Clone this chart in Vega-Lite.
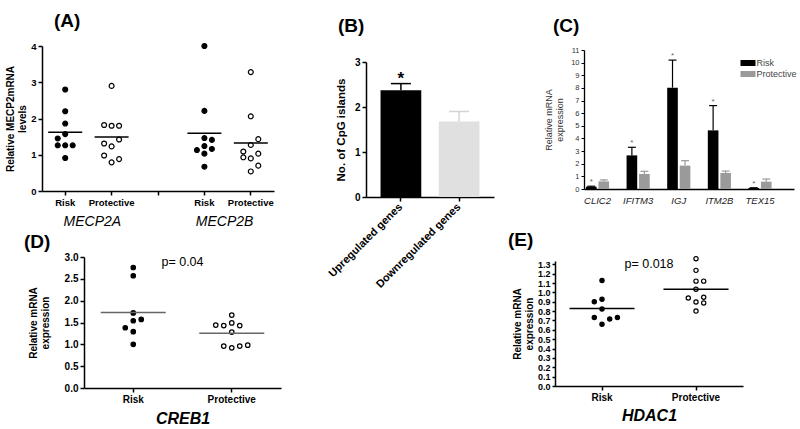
{
  "$schema": "https://vega.github.io/schema/vega-lite/v6.json",
  "padding": {"left": 5, "top": 12, "right": 0, "bottom": 0},
  "background": "#ffffff",
  "config": {
    "font": "Liberation Sans",
    "view": {"stroke": null},
    "axis": {"grid": false, "domainColor": "#000", "tickColor": "#000", "labelColor": "#000", "titleColor": "#000", "domainWidth": 1.5, "tickWidth": 1.5, "tickSize": 4, "labelFontWeight": "bold", "labelFontSize": 10, "titleFontSize": 10, "titleFontWeight": "bold", "labelPadding": 2},
    "title": {"fontSize": 19, "fontWeight": "bold", "anchor": "start", "frame": "group", "color": "#000"}
  },
  "columns": 3,
  "align": "none",
  "bounds": "flush",
  "spacing": {"row": 60, "column": 20},
  "resolve": {"scale": {"xOffset": "independent", "color": "independent"}},
  "concat": [
    {
      "title": {"text": "(A)", "dx": 12, "offset": 10},
      "width": 304, "height": 145,
      "data": {"values": [
        {"cat": "A-Risk", "group": "Risk", "value": 2.80, "jitter": 0},
        {"cat": "A-Risk", "group": "Risk", "value": 2.20, "jitter": 0},
        {"cat": "A-Risk", "group": "Risk", "value": 1.86, "jitter": 0},
        {"cat": "A-Risk", "group": "Risk", "value": 1.57, "jitter": 0},
        {"cat": "A-Risk", "group": "Risk", "value": 1.45, "jitter": -1},
        {"cat": "A-Risk", "group": "Risk", "value": 1.26, "jitter": -1},
        {"cat": "A-Risk", "group": "Risk", "value": 1.26, "jitter": 0},
        {"cat": "A-Risk", "group": "Risk", "value": 1.26, "jitter": 1},
        {"cat": "A-Risk", "group": "Risk", "value": 0.91, "jitter": 0},
        {"cat": "A-Protective", "group": "Protective", "value": 2.90, "jitter": 0},
        {"cat": "A-Protective", "group": "Protective", "value": 1.82, "jitter": -1},
        {"cat": "A-Protective", "group": "Protective", "value": 1.80, "jitter": 0},
        {"cat": "A-Protective", "group": "Protective", "value": 1.80, "jitter": 1},
        {"cat": "A-Protective", "group": "Protective", "value": 1.42, "jitter": 1},
        {"cat": "A-Protective", "group": "Protective", "value": 1.31, "jitter": -1},
        {"cat": "A-Protective", "group": "Protective", "value": 1.23, "jitter": 0},
        {"cat": "A-Protective", "group": "Protective", "value": 0.98, "jitter": -1},
        {"cat": "A-Protective", "group": "Protective", "value": 0.88, "jitter": 1},
        {"cat": "A-Protective", "group": "Protective", "value": 0.79, "jitter": 0},
        {"cat": "B-Risk", "group": "Risk", "value": 4.00, "jitter": 0},
        {"cat": "B-Risk", "group": "Risk", "value": 2.21, "jitter": 0},
        {"cat": "B-Risk", "group": "Risk", "value": 1.46, "jitter": 0},
        {"cat": "B-Risk", "group": "Risk", "value": 1.41, "jitter": 1},
        {"cat": "B-Risk", "group": "Risk", "value": 1.24, "jitter": 0},
        {"cat": "B-Risk", "group": "Risk", "value": 1.16, "jitter": 1},
        {"cat": "B-Risk", "group": "Risk", "value": 1.13, "jitter": -1},
        {"cat": "B-Risk", "group": "Risk", "value": 1.03, "jitter": 0},
        {"cat": "B-Risk", "group": "Risk", "value": 0.67, "jitter": 0},
        {"cat": "B-Protective", "group": "Protective", "value": 3.28, "jitter": 0},
        {"cat": "B-Protective", "group": "Protective", "value": 2.06, "jitter": 0},
        {"cat": "B-Protective", "group": "Protective", "value": 1.43, "jitter": 1},
        {"cat": "B-Protective", "group": "Protective", "value": 1.27, "jitter": 0},
        {"cat": "B-Protective", "group": "Protective", "value": 1.09, "jitter": -1},
        {"cat": "B-Protective", "group": "Protective", "value": 1.03, "jitter": 1},
        {"cat": "B-Protective", "group": "Protective", "value": 0.93, "jitter": -1},
        {"cat": "B-Protective", "group": "Protective", "value": 0.90, "jitter": 0},
        {"cat": "B-Protective", "group": "Protective", "value": 0.70, "jitter": 1},
        {"cat": "B-Protective", "group": "Protective", "value": 0.54, "jitter": 0}
      ]},
      "encoding": {
        "x": {"field": "cat", "type": "nominal", "sort": null,
          "scale": {"type": "band", "domain": ["A-Risk", "A-Protective", "gap", "B-Risk", "B-Protective"], "range": [0, 232], "paddingInner": 0, "paddingOuter": 0},
          "axis": {"title": "MECP2A\u2003\u2003\u2003\u2003\u2003\u2004MECP2B", "titleFontStyle": "italic", "titleFontWeight": "normal", "titleFontSize": 14, "titlePadding": 8, "labelAngle": 0, "labelFontSize": 9.5,
            "labelExpr": "datum.value === 'gap' ? '' : (indexof(datum.value, 'Risk') >= 0 ? 'Risk' : 'Protective')",
            "encode": {"ticks": {"update": {"opacity": {"signal": "datum.value === 'A-Risk' || datum.value === 'A-Protective' ? 0 : 1"}}}}}},
        "y": {"field": "value", "type": "quantitative", "scale": {"domain": [0, 4], "nice": false},
          "axis": {"values": [0, 1, 2, 3, 4], "title": ["Relative MECP2mRNA", "levels"], "titlePadding": 3, "labelFontSize": 9.5}}
      },
      "layer": [
        {"mark": {"type": "point", "shape": "circle", "filled": true, "size": 24, "stroke": "#000", "strokeWidth": 1.2, "opacity": 1},
         "encoding": {
           "xOffset": {"field": "jitter", "type": "quantitative", "scale": {"domain": [-3.1, 3.1]}},
           "fill": {"condition": {"test": "datum.group === 'Risk'", "value": "#000"}, "value": "#fff"}}},
        {"mark": {"type": "tick", "color": "#000", "thickness": 1.5, "size": 34, "opacity": 1},
         "encoding": {"y": {"aggregate": "mean", "field": "value", "type": "quantitative"}}}
      ]
    },
    {
      "title": {"text": "(B)", "dx": -28, "offset": 10},
      "width": 169, "height": 151,
      "data": {"values": [
        {"gene": "Upregulated genes", "value": 2.37, "err": 2.52, "star": "*"},
        {"gene": "Downregulated genes", "value": 1.68, "err": 1.90, "star": ""}
      ]},
      "encoding": {
        "x": {"field": "gene", "type": "nominal", "sort": null,
          "scale": {"type": "band", "range": [0, 128], "paddingInner": 0.3, "paddingOuter": 0.25},
          "axis": {"title": null, "labelAngle": -45, "labelAlign": "right", "labelBaseline": "middle", "labelFontSize": 11, "labelPadding": 4}},
        "y": {"field": "value", "type": "quantitative", "scale": {"domain": [0, 3], "nice": false, "range": [151, 16]},
          "axis": {"values": [0, 1, 2, 3], "title": "No. of CpG islands", "titleFontSize": 11.5, "titlePadding": 8}}
      },
      "layer": [
        {"mark": {"type": "bar"},
         "encoding": {"color": {"condition": {"test": "datum.gene === 'Upregulated genes'", "value": "#000"}, "value": "#e0e0e0"}}},
        {"mark": {"type": "rule", "strokeWidth": 1.5},
         "encoding": {"y2": {"field": "err"},
           "color": {"condition": {"test": "datum.gene === 'Upregulated genes'", "value": "#000"}, "value": "#d4d4d4"}}},
        {"mark": {"type": "tick", "thickness": 1.5, "size": 20, "opacity": 1},
         "encoding": {"y": {"field": "err", "type": "quantitative"},
           "color": {"condition": {"test": "datum.gene === 'Upregulated genes'", "value": "#000"}, "value": "#d4d4d4"}}},
        {"mark": {"type": "text", "fontSize": 17, "fontWeight": "bold", "baseline": "alphabetic", "color": "#000"},
         "encoding": {"y": {"field": "err", "type": "quantitative"}, "text": {"field": "star"}}}
      ]
    },
    {
      "title": {"text": "(C)", "dx": -2, "offset": 10},
      "width": 254, "height": 143,
      "data": {"values": [
        {"gene": "CLIC2", "group": "Risk", "value": 0.18, "err": 0.22},
        {"gene": "CLIC2", "group": "Protective", "value": 0.60, "err": 0.72},
        {"gene": "IFITM3", "group": "Risk", "value": 2.66, "err": 3.30},
        {"gene": "IFITM3", "group": "Protective", "value": 1.19, "err": 1.40},
        {"gene": "IGJ", "group": "Risk", "value": 8.02, "err": 10.2},
        {"gene": "IGJ", "group": "Protective", "value": 1.85, "err": 2.24},
        {"gene": "ITM2B", "group": "Risk", "value": 4.64, "err": 6.60},
        {"gene": "ITM2B", "group": "Protective", "value": 1.27, "err": 1.42},
        {"gene": "TEX15", "group": "Risk", "value": 0.08, "err": 0.10},
        {"gene": "TEX15", "group": "Protective", "value": 0.58, "err": 0.79}
      ]},
      "encoding": {
        "x": {"field": "gene", "type": "nominal", "sort": null,
          "scale": {"type": "band", "range": [29, 239], "paddingInner": 0.43, "paddingOuter": 0.3, "align": 0.08},
          "axis": {"title": null, "labelAngle": 0, "ticks": false, "labelFontStyle": "italic", "labelFontWeight": "normal", "labelFontSize": 9.5, "labelColor": "#222", "labelPadding": 6, "domainWidth": 1.3}},
        "xOffset": {"field": "group", "type": "nominal", "sort": null, "scale": {"domain": ["Risk", "Protective"], "paddingInner": 0.15}},
        "y": {"field": "value", "type": "quantitative", "scale": {"domain": [0, 11], "nice": false, "range": [143, 4]},
          "axis": {"values": [0, 1, 2, 3, 4, 5, 6, 7, 8, 9, 10, 11], "offset": -29, "labelFontSize": 7.5, "labelFontWeight": "normal", "labelColor": "#333", "tickSize": 3, "tickWidth": 1, "domainWidth": 1.3,
            "title": ["Relative mRNA", "expression"], "titleFontSize": 9, "titleFontWeight": "normal", "titleColor": "#333", "titlePadding": 6}},
        "color": {"field": "group", "type": "nominal", "sort": null,
          "scale": {"domain": ["Risk", "Protective"], "range": ["#000000", "#9a9a9a"]},
          "legend": {"title": null, "orient": "top-right", "offset": 12, "padding": 0, "symbolType": "M-1.5,-0.6H1.5V0.6H-1.5Z", "symbolSize": 100, "symbolStrokeWidth": 0, "symbolOpacity": 1, "labelFontSize": 9, "labelColor": "#444", "labelOffset": 3.5, "rowPadding": 1}}
      },
      "layer": [
        {"mark": {"type": "bar"}},
        {"mark": {"type": "rule", "strokeWidth": 1.2},
         "encoding": {"y2": {"field": "err"}}},
        {"mark": {"type": "tick", "thickness": 1.2, "size": 8, "opacity": 1},
         "encoding": {"y": {"field": "err", "type": "quantitative"}}},
        {"transform": [{"filter": "datum.group === 'Risk'"}],
         "mark": {"type": "text", "text": "*", "fontSize": 8, "baseline": "alphabetic", "dy": -2, "color": "#666"},
         "encoding": {"y": {"field": "err", "type": "quantitative"}, "color": {"value": "#666"}}}
      ]
    },
    {
      "title": {"text": "(D)", "dx": -18, "offset": 0},
      "width": 304, "height": 131,
      "data": {"values": [
        {"group": "Risk", "value": 2.76, "jitter": 0},
        {"group": "Risk", "value": 2.57, "jitter": 0},
        {"group": "Risk", "value": 1.72, "jitter": 0},
        {"group": "Risk", "value": 1.57, "jitter": 1},
        {"group": "Risk", "value": 1.54, "jitter": 0},
        {"group": "Risk", "value": 1.38, "jitter": -1},
        {"group": "Risk", "value": 1.29, "jitter": 0},
        {"group": "Risk", "value": 1.00, "jitter": 0},
        {"group": "Protective", "value": 1.67, "jitter": 0},
        {"group": "Protective", "value": 1.49, "jitter": 0},
        {"group": "Protective", "value": 1.44, "jitter": -2},
        {"group": "Protective", "value": 1.43, "jitter": -1},
        {"group": "Protective", "value": 1.43, "jitter": 1},
        {"group": "Protective", "value": 1.28, "jitter": 0},
        {"group": "Protective", "value": 0.98, "jitter": 2},
        {"group": "Protective", "value": 0.96, "jitter": -1},
        {"group": "Protective", "value": 0.96, "jitter": 1},
        {"group": "Protective", "value": 0.92, "jitter": 0}
      ]},
      "encoding": {
        "x": {"field": "group", "type": "nominal", "sort": null,
          "scale": {"type": "band", "domain": ["Risk", "Protective"], "range": [42, 239], "paddingInner": 0, "paddingOuter": 0},
          "axis": {"title": "CREB1", "titleFontStyle": "italic", "titleFontSize": 16, "titleFontWeight": "bold", "titlePadding": 6, "labelAngle": 0, "labelFontSize": 10}},
        "y": {"field": "value", "type": "quantitative", "scale": {"domain": [0, 3], "nice": false},
          "axis": {"values": [0, 0.5, 1, 1.5, 2, 2.5, 3], "format": ".1f", "offset": -42, "title": ["Relative mRNA", "expression"], "titlePadding": 14}}
      },
      "layer": [
        {"mark": {"type": "point", "shape": "circle", "filled": true, "size": 20, "stroke": "#000", "strokeWidth": 1.2, "opacity": 1},
         "encoding": {
           "xOffset": {"field": "jitter", "type": "quantitative", "scale": {"domain": [-6.16, 6.16]}},
           "fill": {"condition": {"test": "datum.group === 'Risk'", "value": "#000"}, "value": "#fff"}}},
        {"mark": {"type": "tick", "color": "#666", "thickness": 1.5, "size": 65, "opacity": 1},
         "encoding": {"y": {"aggregate": "mean", "field": "value", "type": "quantitative"}}},
        {"data": {"values": [{"group": "Risk", "label": "p= 0.04", "value": 2.88}]},
         "mark": {"type": "text", "fontSize": 12.5, "align": "center", "baseline": "middle", "color": "#000"},
         "encoding": {"x": {"field": "group", "type": "nominal", "bandPosition": 1}, "y": {"field": "value", "type": "quantitative"}, "text": {"field": "label"}}}
      ]
    },
    {
      "width": 1, "height": 1,
      "data": {"values": []},
      "mark": {"type": "point", "opacity": 0}
    },
    {
      "title": {"text": "(E)", "dx": -47, "offset": 4},
      "width": 188, "height": 129,
      "data": {"values": [
        {"group": "Risk", "value": 1.127, "jitter": 0},
        {"group": "Risk", "value": 0.926, "jitter": 0},
        {"group": "Risk", "value": 0.90, "jitter": -1},
        {"group": "Risk", "value": 0.822, "jitter": 0},
        {"group": "Risk", "value": 0.732, "jitter": -1},
        {"group": "Risk", "value": 0.715, "jitter": 1},
        {"group": "Risk", "value": 0.732, "jitter": 2},
        {"group": "Risk", "value": 0.66, "jitter": 0},
        {"group": "Protective", "value": 1.36, "jitter": 0},
        {"group": "Protective", "value": 1.235, "jitter": 0},
        {"group": "Protective", "value": 1.12, "jitter": 0},
        {"group": "Protective", "value": 1.12, "jitter": 1},
        {"group": "Protective", "value": 1.034, "jitter": 0},
        {"group": "Protective", "value": 0.94, "jitter": -1},
        {"group": "Protective", "value": 0.948, "jitter": 1},
        {"group": "Protective", "value": 0.897, "jitter": 0},
        {"group": "Protective", "value": 0.887, "jitter": 1},
        {"group": "Protective", "value": 0.80, "jitter": 0}
      ]},
      "encoding": {
        "x": {"field": "group", "type": "nominal", "sort": null,
          "scale": {"type": "band", "domain": ["Risk", "Protective"], "paddingInner": 0, "paddingOuter": 0},
          "axis": {"title": "HDAC1", "titleFontStyle": "italic", "titleFontSize": 16, "titleFontWeight": "bold", "titlePadding": 5, "labelAngle": 0, "labelFontSize": 10}},
        "y": {"field": "value", "type": "quantitative", "scale": {"domain": [0, 1.335], "nice": false, "range": [129, 4]},
          "axis": {"values": [0, 0.1, 0.2, 0.3, 0.4, 0.5, 0.6, 0.7, 0.8, 0.9, 1.0, 1.1, 1.2, 1.3], "format": ".1f", "labelOverlap": false, "labelFontSize": 9, "tickSize": 3, "title": ["Relative mRNA", "expression"], "titlePadding": 3}}
      },
      "layer": [
        {"mark": {"type": "point", "shape": "circle", "filled": true, "size": 18, "stroke": "#000", "strokeWidth": 1.2, "opacity": 1},
         "encoding": {
           "xOffset": {"field": "jitter", "type": "quantitative", "scale": {"domain": [-6.1, 6.1]}},
           "fill": {"condition": {"test": "datum.group === 'Risk'", "value": "#000"}, "value": "#fff"}}},
        {"mark": {"type": "tick", "color": "#000", "thickness": 1.5, "size": 65, "opacity": 1},
         "encoding": {"y": {"aggregate": "mean", "field": "value", "type": "quantitative"}}},
        {"data": {"values": [{"group": "Risk", "label": "p= 0.018", "value": 1.3}]},
         "mark": {"type": "text", "fontSize": 12.5, "align": "center", "baseline": "middle", "color": "#000"},
         "encoding": {"x": {"field": "group", "type": "nominal", "bandPosition": 1}, "y": {"field": "value", "type": "quantitative"}, "text": {"field": "label"}}}
      ]
    }
  ]
}
